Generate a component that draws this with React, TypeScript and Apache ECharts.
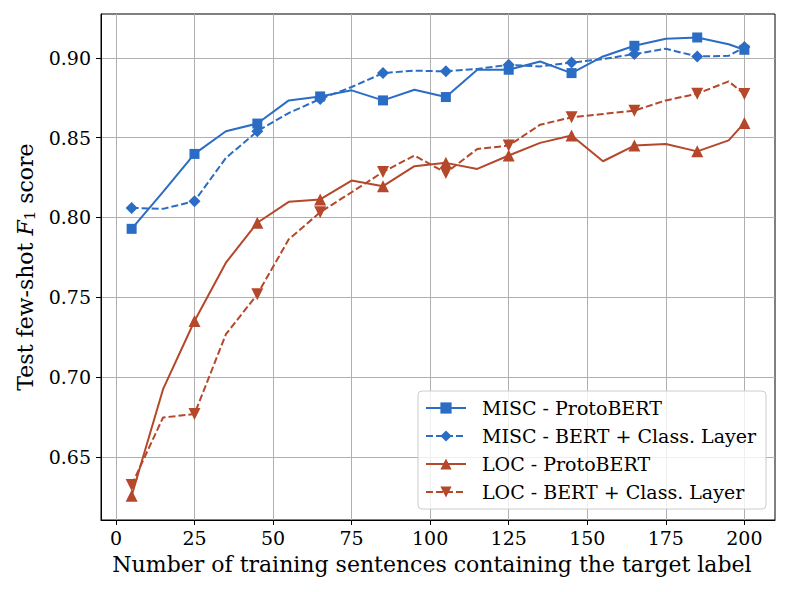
import React, { useEffect, useRef } from "react";
import * as echarts from "echarts";

const xValues = [5, 15, 25, 35, 45, 55, 65, 75, 85, 95, 105, 115, 125, 135, 145, 155, 165, 175, 185, 195, 200];
const miscProto = [0.7929, 0.816, 0.8398, 0.854, 0.8588, 0.8733, 0.8758, 0.8796, 0.8733, 0.880, 0.8754, 0.8925, 0.8925, 0.8977, 0.8904, 0.9008, 0.9075, 0.9119, 0.9127, 0.9085, 0.905];
const miscBert = [0.806, 0.8054, 0.8102, 0.8373, 0.854, 0.8654, 0.8742, 0.8817, 0.8904, 0.8919, 0.8915, 0.893, 0.8956, 0.8946, 0.897, 0.8992, 0.9023, 0.9056, 0.9008, 0.9012, 0.9067];
const locProto = [0.6258, 0.6925, 0.7352, 0.7717, 0.7967, 0.8098, 0.8113, 0.8231, 0.8196, 0.8321, 0.8342, 0.8304, 0.8388, 0.8467, 0.8513, 0.8352, 0.845, 0.846, 0.8414, 0.8483, 0.8592];
const locBert = [0.6325, 0.6748, 0.6769, 0.7269, 0.7519, 0.7863, 0.8033, 0.8158, 0.8285, 0.8388, 0.8279, 0.8429, 0.845, 0.8581, 0.8627, 0.8648, 0.8669, 0.8733, 0.8775, 0.8852, 0.8773];
const xTicks = [0, 25, 50, 75, 100, 125, 150, 175, 200];
const yTicks = [0.65, 0.7, 0.75, 0.8, 0.85, 0.9];
const seriesNames = ["MISC - ProtoBERT", "MISC - BERT + Class. Layer", "LOC - ProtoBERT", "LOC - BERT + Class. Layer"];

const BLUE = "#2b6cc4";
const RED = "#b5472b";
const FONT = "DejaVu Serif";

function buildData(vals: number[]) {
  return vals.map((v, i) => (i % 2 === 0 ? [xValues[i], v] : { value: [xValues[i], v], symbol: "none" }));
}

export default function App() {
  const ref = useRef<HTMLDivElement>(null);
  useEffect(() => {
    const chart = echarts.init(ref.current!, null, { renderer: "svg" });
    const mk = (name: string, vals: number[], color: string, dashed: boolean, symbol: string, size: number, rotate = 0) => ({
      name,
      type: "line",
      data: buildData(vals),
      symbol,
      symbolSize: size,
      symbolRotate: rotate,
      showAllSymbol: true,
      lineStyle: { color, width: 2, type: dashed ? [7, 3] : "solid" },
      itemStyle: { color },
      z: 3,
    });
    chart.setOption({
      animation: false,
      textStyle: { fontFamily: FONT },
      grid: { left: 101, right: 14, top: 14, bottom: 72, show: true, borderColor: "#000", borderWidth: 1, backgroundColor: "transparent" },
      xAxis: {
        type: "value",
        min: -4.75,
        max: 209.75,
        axisLine: { show: true, onZero: false, lineStyle: { color: "#000", width: 1 } },
        axisTick: { show: true, length: 5, lineStyle: { color: "#000" }, customValues: xTicks },
        axisLabel: { customValues: xTicks, color: "#000", fontSize: 19, fontFamily: FONT, margin: 8 },
        splitLine: { show: true, lineStyle: { color: "#b0b0b0", width: 1 } },
        name: "Number of training sentences containing the target label",
        nameLocation: "middle",
        nameGap: 33,
        nameTextStyle: { color: "#000", fontSize: 22, fontFamily: FONT, padding: [0, 12, 0, 0] },
      },
      yAxis: {
        type: "value",
        min: 0.6106,
        max: 0.9274,
        axisLine: { show: true, onZero: false, lineStyle: { color: "#000", width: 1 } },
        axisTick: { show: true, length: 5, lineStyle: { color: "#000" }, customValues: yTicks },
        axisLabel: {
          customValues: yTicks,
          color: "#000",
          fontSize: 19,
          fontFamily: FONT,
          margin: 10,
          formatter: (v: number) => v.toFixed(2),
        },
        splitLine: { show: true, lineStyle: { color: "#b0b0b0", width: 1 } },
        name: "{a|Test few-shot }{i|F}{s|1}{a| score}",
        nameLocation: "middle",
        nameGap: 58,
        nameTextStyle: {
          color: "#000",
          fontSize: 22,
          fontFamily: FONT,
          rich: {
            a: { fontSize: 22, fontFamily: FONT, color: "#000" },
            i: { fontSize: 22, fontFamily: FONT, fontStyle: "italic", color: "#000" },
            s: { fontSize: 15, fontFamily: FONT, color: "#000", padding: [9, 0, 0, 0] },
          },
        },
      },
      legend: {
        show: true,
        orient: "vertical",
        left: 418,
        top: 391,
        padding: [7, 10, 7, 7],
        itemGap: 8,
        itemWidth: 40,
        itemHeight: 14,
        backgroundColor: "rgba(255,255,255,0.8)",
        borderColor: "#cccccc",
        borderWidth: 1,
        borderRadius: 4,
        textStyle: { color: "#000", fontSize: 19, fontFamily: FONT, padding: [0, 0, 0, 11], lineHeight: 20 },
        data: seriesNames,
      },
      series: [
        mk(seriesNames[0], miscProto, BLUE, false, "rect", 10),
        mk(seriesNames[1], miscBert, BLUE, true, "diamond", 12),
        mk(seriesNames[2], locProto, RED, false, "triangle", 12),
        mk(seriesNames[3], locBert, RED, true, "triangle", 12, 180),
      ],
    });
    return () => chart.dispose();
  }, []);
  return <div ref={ref} style={{ position: "fixed", left: 0, top: 0, width: 789, height: 592, background: "#fff" }} />;
}
